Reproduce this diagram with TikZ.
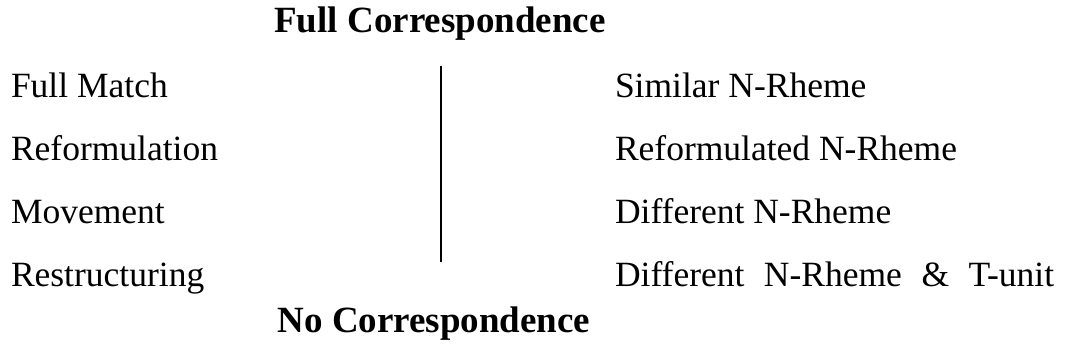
\documentclass[tikz,border=0pt]{standalone}
\usepackage{fontspec}
\setmainfont{Liberation Serif}
\begin{document}
\begin{tikzpicture}[x=1pt,y=-1pt,
  lbl/.style={inner sep=0pt,outer sep=0pt,font=\fontsize{35.5}{42}\selectfont},
  ttl/.style={lbl,anchor=base,font=\fontsize{37}{44}\selectfont\bfseries},
  lft/.style={lbl,anchor=base west},
  divider/.style={line width=2.2pt,black}]
\useasboundingbox (0,0) rectangle (1074,360);
\node[ttl] (full) at (440,32) {Full Correspondence};
\node[ttl] (none) at (434,332) {No Correspondence};
\node[lft] (l1) at (11,97) {Full Match};
\node[lft] (l2) at (11,160) {Reformulation};
\node[lft] (l3) at (11,223) {Movement};
\node[lft] (l4) at (11,286) {Restructuring};
\node[lft] (r1) at (615,97) {Similar N-Rheme};
\node[lft] (r2) at (615,160) {Reformulated N-Rheme};
\node[lft] (r3) at (615,223) {Different N-Rheme};
\node[lft] (r4) at (615,286) {Different\hspace{0.3em} N-Rheme\hspace{0.3em} \&\hspace{0.3em} T-unit};
\coordinate (top) at (441,66);
\coordinate (bot) at (441,262);
\draw[divider] (top) -- (bot);
\end{tikzpicture}
\end{document}
